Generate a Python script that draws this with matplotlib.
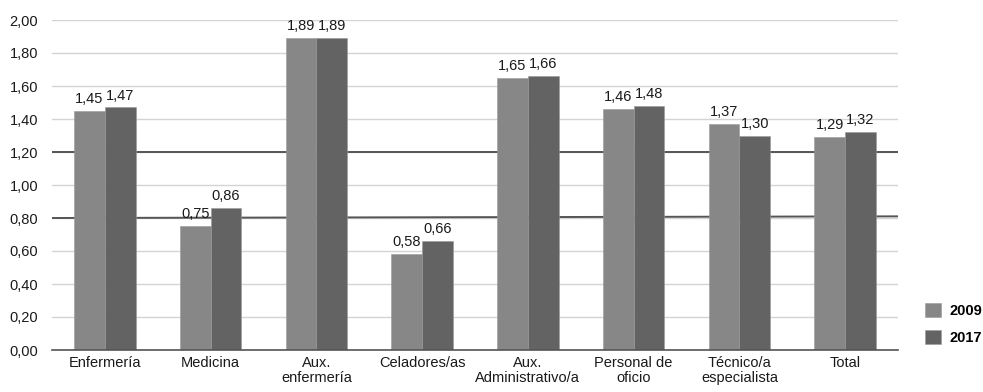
import matplotlib
matplotlib.use("Agg")
import matplotlib.pyplot as plt
import numpy as np

categories = ["Enfermería", "Medicina", "Aux.\nenfermería", "Celadores/as",
              "Aux.\nAdministrativo/a", "Personal de\noficio", "Técnico/a\nespecialista", "Total"]
series_names = ["2009", "2017"]
values_2009 = [1.45, 0.75, 1.89, 0.58, 1.65, 1.46, 1.37, 1.29]
values_2017 = [1.47, 0.86, 1.89, 0.66, 1.66, 1.48, 1.30, 1.32]
yticks = [0.0, 0.2, 0.4, 0.6, 0.8, 1.0, 1.2, 1.4, 1.6, 1.8, 2.0]
ref_upper = [1.20, 1.20]
ref_lower = [0.80, 0.81]

colors = ["#878787", "#636363"]

plt.rcParams['font.family'] = ['Liberation Sans', 'DejaVu Sans']

fig = plt.figure(figsize=(9.83, 3.92), dpi=100)
ax = fig.add_axes([52/983, 1-350/392, (898-52)/983, 330/392])

x = np.arange(len(categories))
w = 0.29
fmt = lambda v: f"{v:.2f}".replace(".", ",")

for i, (vals, name) in enumerate(zip([values_2009, values_2017], series_names)):
    pos = x + (i - 0.5) * w
    ax.bar(pos, vals, w, color=colors[i], label=name, zorder=3,
           edgecolor="#9a9a9a", linewidth=0.4)
    for p, v in zip(pos, vals):
        ax.text(p, v + 0.03, fmt(v), ha="center", va="bottom", fontsize=10.5, color="#1a1a1a", zorder=4)

ax.set_xlim(-0.5, len(categories) - 0.5)
ax.set_ylim(0, 2.0)
ax.set_yticks(yticks)
ax.set_yticklabels([fmt(t) for t in yticks], fontsize=10.5, color="#1a1a1a")
ax.set_xticks(x)
ax.set_xticklabels(categories, fontsize=10.5, color="#1a1a1a", linespacing=1.1)
ax.tick_params(axis="both", length=0, pad=4)
ax.tick_params(axis="y", pad=10)

ax.grid(axis="y", color="#d4d4d4", linewidth=1, zorder=0)
for s in ["top", "right", "left"]:
    ax.spines[s].set_visible(False)
ax.spines["bottom"].set_color("#555555")
ax.spines["bottom"].set_linewidth(1.2)
ax.spines["bottom"].set_zorder(5)

xl = ax.get_xlim()
ax.plot(xl, ref_upper, color="#555555", linewidth=1.4, zorder=2)
ax.plot(xl, ref_lower, color="#555555", linewidth=1.4, zorder=2)
ax.set_xlim(xl)

fig.legend(loc="upper left", bbox_to_anchor=(912/983, 1-290/392), frameon=False,
           handlelength=1.1, handleheight=1.1, handletextpad=0.6, labelspacing=0.85,
           prop={"weight": "bold", "size": 10.5})

fig.savefig("out.png", dpi=100)
